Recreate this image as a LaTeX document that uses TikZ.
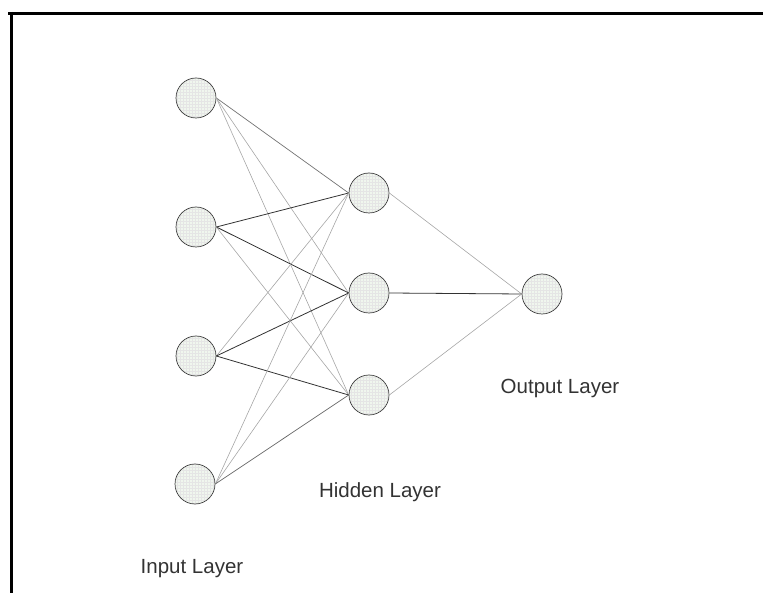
\documentclass[tikz,border=0pt]{standalone}
\usepackage{fontspec}
\setsansfont{Liberation Sans}
\usetikzlibrary{patterns}

\tikzset{
  neuron/.style={circle, draw=black!75, line width=0.7pt, minimum size=40pt, inner sep=0pt,
    preaction={fill={rgb,255:red,240;green,246;blue,238}}, pattern=grid, pattern color=black!10},
  darkline/.style={black!80, line width=0.8pt},
  lightline/.style={black!35, line width=0.6pt},
  layerlabel/.style={font=\sffamily\fontsize{20.5}{24}\selectfont, text=black!80}
}

\begin{document}
\begin{tikzpicture}[x=1pt,y=-1pt]
\useasboundingbox (0,0) rectangle (763,593);
% frame (only top and left edges show)
\draw [line width=3pt] (8,13.5) -- (763,13.5);
\draw [line width=3pt] (11.5,12) -- (11.5,593);

% input layer
\node [neuron] (i1) at (196,98) {};
\node [neuron] (i2) at (196,227) {};
\node [neuron] (i3) at (196,356) {};
\node [neuron] (i4) at (195,484) {};

% hidden layer
\node [neuron] (h1) at (369,193) {};
\node [neuron] (h2) at (369,293) {};
\node [neuron] (h3) at (369,395) {};

% output layer
\node [neuron] (o) at (542,294) {};

% weights input -> hidden
\draw [black!55, line width=0.7pt] (i1.east) -- (h1.west);
\draw [lightline] (i1.east) -- (h2.west);
\draw [lightline] (i1.east) -- (h3.west);
\draw [darkline] (i2.east) -- (h1.west);
\draw [darkline] (i2.east) -- (h2.west);
\draw [lightline] (i2.east) -- (h3.west);
\draw [lightline] (i3.east) -- (h1.west);
\draw [darkline] (i3.east) -- (h2.west);
\draw [darkline] (i3.east) -- (h3.west);
\draw [lightline] (i4.east) -- (h1.west);
\draw [lightline] (i4.east) -- (h2.west);
\draw [black!60, line width=0.7pt] (i4.east) -- (h3.west);

% weights hidden -> output
\draw [lightline] (h1.east) -- (o.west);
\draw [darkline] (h2.east) -- (o.west);
\draw [lightline] (h3.east) -- (o.west);

% labels
\node [layerlabel] (inlab) at (192,569) {Input Layer};
\node [layerlabel] (hidlab) at (380,492) {Hidden Layer};
\node [layerlabel] (outlab) at (560,388) {Output Layer};
\end{tikzpicture}
\end{document}
